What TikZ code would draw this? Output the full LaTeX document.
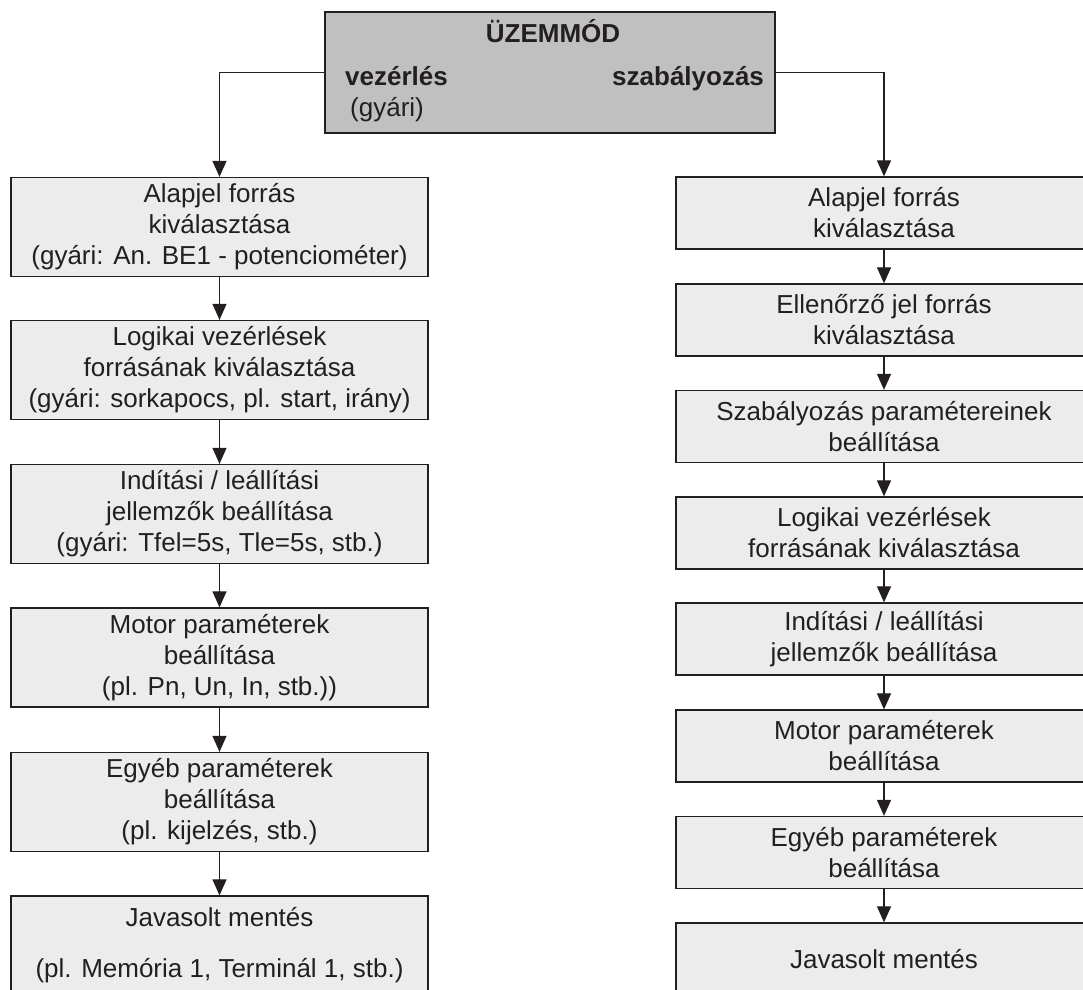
\documentclass[tikz,border=0pt]{standalone}
\usepackage{fontspec}
\setmainfont{Liberation Sans}
\usetikzlibrary{arrows.meta}
\definecolor{modegray}{RGB}{192,192,192}
\definecolor{boxgray}{RGB}{236,236,236}
\definecolor{inkblack}{RGB}{35,31,32}

\begin{document}
\begin{tikzpicture}[x=1pt,y=-1pt,
    font=\fontsize{26}{31}\selectfont, text=inkblack,
    lbox/.style={draw=inkblack, line width=1.3pt, fill=boxgray,
      minimum width=417pt, minimum height=99pt, align=center, inner sep=0pt},
    rbox/.style={lbox, minimum width=416pt, minimum height=72pt},
    >={Triangle[length=16pt,width=14pt]}]
      \useasboundingbox (0,0) rectangle (1083,989);

      \node[draw=inkblack, line width=1.3pt, fill=modegray,
        minimum width=450pt, minimum height=121pt] (Mode) at (550,72.5) {};
      \node[font=\fontsize{26}{31}\selectfont\bfseries, anchor=base] (Title) at (553,42) {ÜZEMMÓD};
      \node[font=\fontsize{26}{31}\selectfont\bfseries, anchor=base west, inner sep=0pt] (Vez) at (345,85) {vezérlés};
      \node[anchor=base west, inner sep=0pt] (Gyari) at (350,116) {(gyári)};
      \node[font=\fontsize{26}{31}\selectfont\bfseries, anchor=base west, inner sep=0pt] (Szab) at (612,85) {szabályozás};

      % vezerles ag
      \node[lbox] (L1) at (219.5,227) {Alapjel forrás\\kiválasztása\\(gyári: An. BE1 - potenciométer)};
      \node[lbox] (L2) at (219.5,370) {Logikai vezérlések\\forrásának kiválasztása\\(gyári: sorkapocs, pl. start, irány)};
      \node[lbox] (L3) at (219.5,514) {Indítási / leállítási\\jellemzők beállítása\\(gyári: Tfel=5s, Tle=5s, stb.)};
      \node[lbox] (L4) at (219.5,657.5) {Motor paraméterek\\beállítása\\(pl. Pn, Un, In, stb.))};
      \node[lbox] (L5) at (219.5,802) {Egyéb paraméterek\\beállítása\\(pl. kijelzés, stb.)};
      \node[lbox] (L6) at (219.5,945.5) {Javasolt mentés\\[20pt](pl. Memória 1, Terminál 1, stb.)};

      % szabalyozas ag
      \node[rbox] (R1) at (884,213) {Alapjel forrás\\kiválasztása};
      \node[rbox] (R2) at (884,320) {Ellenőrző jel forrás\\kiválasztása};
      \node[rbox] (R3) at (884,426.5) {Szabályozás paramétereinek\\beállítása};
      \node[rbox] (R4) at (884,533) {Logikai vezérlések\\forrásának kiválasztása};
      \node[rbox] (R5) at (884,639) {Indítási / leállítási\\jellemzők beállítása};
      \node[rbox] (R6) at (884,746) {Motor paraméterek\\beállítása};
      \node[rbox] (R7) at (884,852.5) {Egyéb paraméterek\\beállítása};
      \node[rbox] (R8) at (884,959) {Javasolt mentés};

      \draw [->, line width=1.2pt, inkblack] (Mode.west) -| (L1);
      \draw [->, line width=1.2pt, inkblack] (Mode.east) -| (R1);
      \draw [->, line width=1.2pt, inkblack] (L1) to (L2);
      \draw [->, line width=1.2pt, inkblack] (L2) to (L3);
      \draw [->, line width=1.2pt, inkblack] (L3) to (L4);
      \draw [->, line width=1.2pt, inkblack] (L4) to (L5);
      \draw [->, line width=1.2pt, inkblack] (L5) to (L6);
      \draw [->, line width=1.2pt, inkblack] (R1) to (R2);
      \draw [->, line width=1.2pt, inkblack] (R2) to (R3);
      \draw [->, line width=1.2pt, inkblack] (R3) to (R4);
      \draw [->, line width=1.2pt, inkblack] (R4) to (R5);
      \draw [->, line width=1.2pt, inkblack] (R5) to (R6);
      \draw [->, line width=1.2pt, inkblack] (R6) to (R7);
      \draw [->, line width=1.2pt, inkblack] (R7) to (R8);
\end{tikzpicture}
\end{document}
